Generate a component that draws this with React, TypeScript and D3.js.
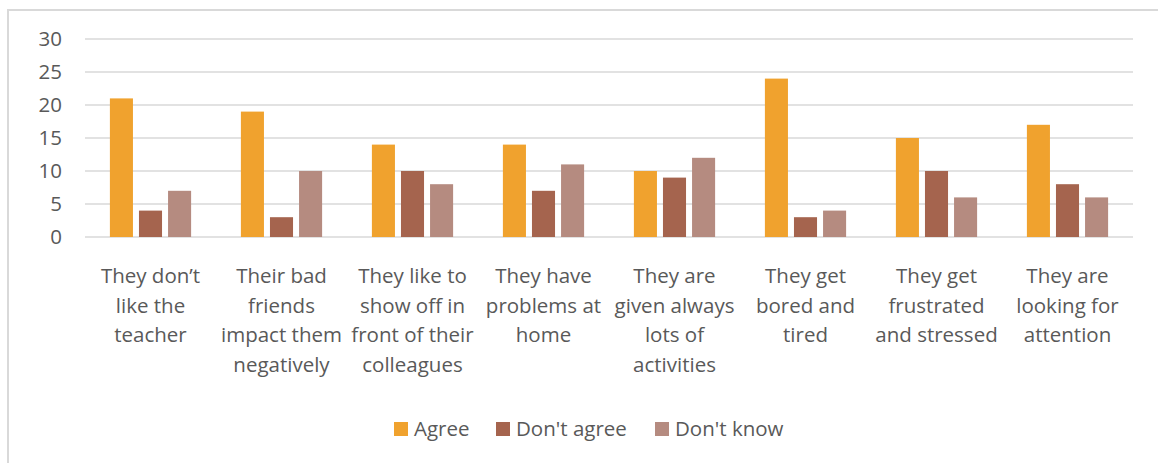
import React from "react";
import * as d3 from "d3";

const categories = [
  "They don’t\nlike the\nteacher",
  "Their bad\nfriends\nimpact them\nnegatively",
  "They like to\nshow off in\nfront of their\ncolleagues",
  "They have\nproblems at\nhome",
  "They are\ngiven always\nlots of\nactivities",
  "They get\nbored and\ntired",
  "They get\nfrustrated\nand stressed",
  "They are\nlooking for\nattention",
];
const seriesNames = ["Agree", "Don't agree", "Don't know"];
const agree = [21, 19, 14, 14, 10, 24, 15, 17];
const dontAgree = [4, 3, 10, 7, 9, 3, 10, 8];
const dontKnow = [7, 10, 8, 11, 12, 4, 6, 6];
const yTicks = [0, 5, 10, 15, 20, 25, 30];
const colors = ["#F0A22E", "#A5644E", "#B58B80"];

const W = 1158;
const H = 463;
const FONT = "'Open Sans', sans-serif";
const TEXT = "#595959";

export default function App() {
  const values = [agree, dontAgree, dontKnow];
  const x0 = d3.scaleBand<string>().domain(categories).range([85, 1133]).padding(0);
  const bw0 = x0.bandwidth();
  const clusterW = bw0 * 0.62;
  const x1 = d3
    .scaleBand<string>()
    .domain(seriesNames)
    .range([(bw0 - clusterW) / 2, (bw0 + clusterW) / 2])
    .paddingInner(0.207)
    .paddingOuter(0);
  const y = d3.scaleLinear().domain([0, 30]).range([237, 39]);

  const legendItems = [
    { name: seriesNames[0], x: 394 },
    { name: seriesNames[1], x: 496 },
    { name: seriesNames[2], x: 655 },
  ];

  return (
    <svg
      width={W}
      height={H}
      style={{ position: "absolute", left: 0, top: 0, background: "#fff" }}
      fontFamily={FONT}
    >
      <rect x={0} y={0} width={W} height={H} fill="#fff" />
      <rect x={8} y={10} width={W + 20} height={H + 20} fill="none" stroke="#D9D9D9" strokeWidth={2} />
      {yTicks.map((t) => (
        <g key={t}>
          <line x1={85} x2={1133} y1={y(t)} y2={y(t)} stroke="#D9D9D9" strokeWidth={1.5} />
          <text x={62} y={y(t)} dy="0.35em" textAnchor="end" fontSize={20.5} fill={TEXT}>
            {t}
          </text>
        </g>
      ))}
      {categories.map((c, i) => (
        <g key={c} transform={`translate(${x0(c)},0)`}>
          {seriesNames.map((s, j) => (
            <rect
              key={s}
              x={x1(s)}
              y={y(values[j][i])}
              width={x1.bandwidth()}
              height={y(0) - y(values[j][i])}
              fill={colors[j]}
            />
          ))}
          <text textAnchor="middle" fontSize={20.5} fill={TEXT}>
            {c.split("\n").map((line, k) => (
              <tspan key={k} x={bw0 / 2} y={283 + k * 29.5}>
                {line}
              </tspan>
            ))}
          </text>
        </g>
      ))}
      {legendItems.map((it, j) => (
        <g key={it.name}>
          <rect x={it.x} y={422} width={14} height={14} fill={colors[j]} />
          <text x={it.x + 20} y={429} dy="0.35em" fontSize={20.5} fill={TEXT}>
            {it.name}
          </text>
        </g>
      ))}
    </svg>
  );
}
